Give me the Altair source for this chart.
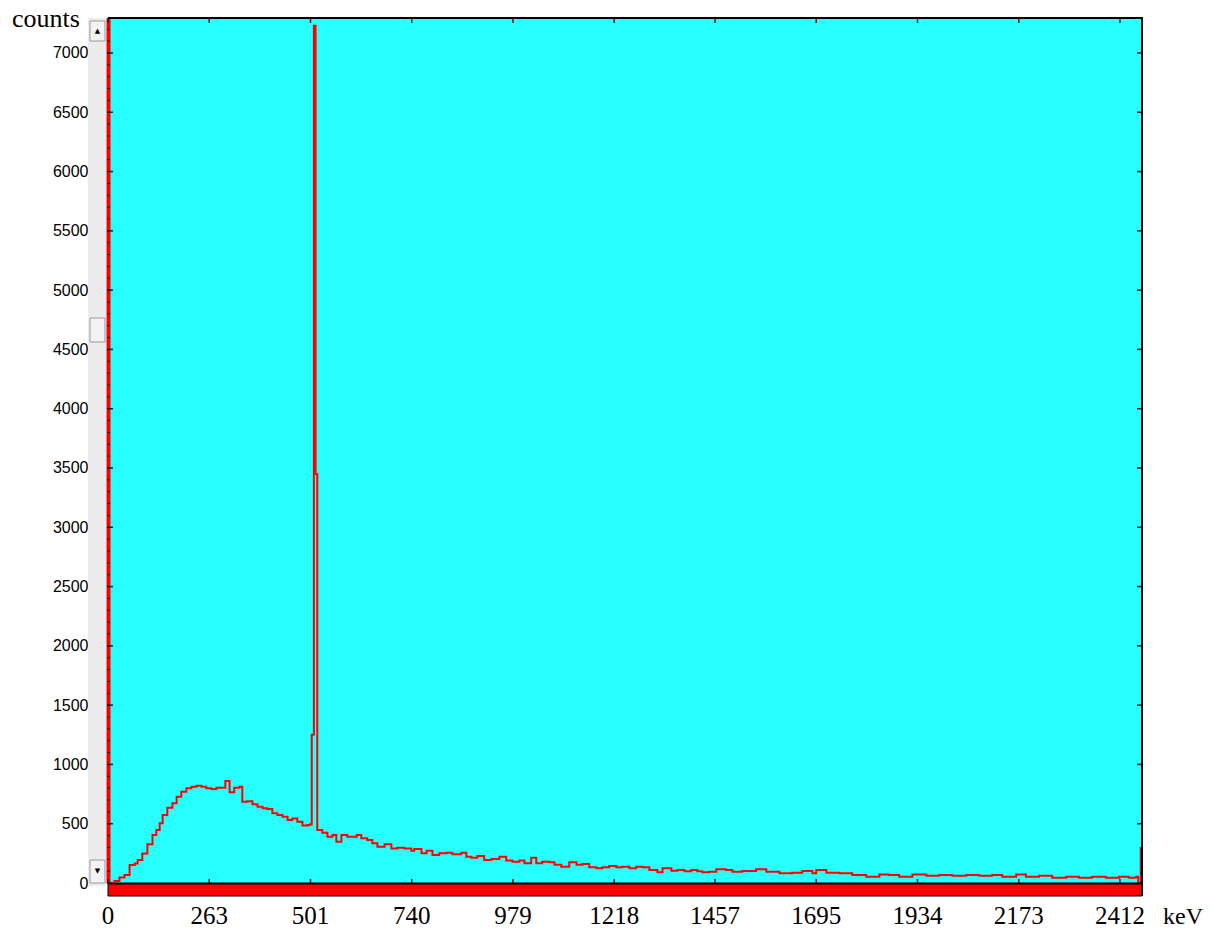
import altair as alt
import pandas as pd

# ---- data (keV, counts) ----
energy_kev = [25, 40, 52, 64, 76, 88, 95, 106, 118, 130, 139, 147, 154, 165, 177, 187,
              198, 210, 222, 234, 246, 257, 269, 281, 293, 302, 312, 323, 335, 342, 354,
              366, 378, 390, 401, 413, 425, 437, 449, 460, 472, 484, 496, 502, 506, 511,
              515, 519, 531, 543, 555, 564, 576, 590, 612, 623, 637, 649, 661, 678, 694,
              708, 725, 741, 748, 765, 777, 791, 807, 824, 838, 859, 871, 883, 897, 913,
              930, 949, 965, 980, 996, 1008, 1024, 1036, 1050, 1067, 1079, 1095, 1114,
              1131, 1145, 1161, 1178, 1192, 1208, 1225, 1239, 1256, 1272, 1287, 1303,
              1322, 1334, 1355, 1369, 1386, 1402, 1416, 1428, 1444, 1461, 1484, 1499,
              1522, 1555, 1579, 1610, 1640, 1664, 1688, 1697, 1721, 1752, 1782, 1815,
              1846, 1869, 1893, 1924, 1957, 1987, 2018, 2051, 2082, 2112, 2136, 2169,
              2192, 2223, 2254, 2287, 2317, 2348, 2381, 2412, 2435, 2452, 2457, 2463, 2466]
counts = [0, 16, 46, 67, 152, 165, 194, 249, 326, 404, 447, 503, 573, 635, 672, 728,
          770, 799, 812, 821, 812, 799, 793, 804, 804, 860, 765, 804, 812, 686, 689,
          664, 643, 630, 624, 588, 573, 559, 531, 545, 517, 484, 489, 495, 1250, 7230,
          3450, 447, 424, 390, 405, 348, 405, 390, 405, 377, 362, 335, 306, 326, 292,
          297, 292, 272, 286, 250, 272, 236, 250, 256, 243, 256, 222, 214, 228, 194,
          202, 222, 189, 180, 189, 166, 214, 166, 180, 175, 154, 137, 175,
          154, 160, 132, 124, 132, 143, 132, 137, 124, 137, 132, 110,
          90, 124, 104, 110, 99, 110, 99, 90, 95, 115, 110, 95,
          101, 115, 95, 82, 87, 101, 82, 110, 87, 82, 67, 53,
          72, 67, 53, 72, 62, 67, 62, 67, 62, 67, 53, 72,
          53, 62, 45, 53, 45, 53, 45, 53, 45, 53, 0, 295, 295]

x_tick_energy = [25, 264, 503, 742, 981, 1220, 1458, 1697, 1936, 2175, 2414]
x_tick_labels = ["0", "263", "501", "740", "979", "1218", "1457", "1695", "1934", "2173", "2412"]
y_tick_values = [0, 500, 1000, 1500, 2000, 2500, 3000, 3500, 4000, 4500, 5000, 5500, 6000, 6500, 7000]
y_minor_values = list(range(0, 7300, 100))

W, H = 1034, 865
X_MIN, X_MAX = 25, 2466
Y_MAX = 7295
CYAN = "#28FFFF"
RED = "#FF0000"
TICK = "#1a1a1a"

spec = pd.DataFrame({"energy": energy_kev, "counts": counts})
xt = pd.DataFrame({"energy": x_tick_energy, "label": x_tick_labels})
ymaj = pd.DataFrame({"counts": y_tick_values})
ymin = pd.DataFrame({"counts": y_minor_values})
one = pd.DataFrame({"k": [0]})

xs = alt.Scale(domain=[X_MIN, X_MAX], nice=False, zero=False)
ys = alt.Scale(domain=[0, Y_MAX], nice=False, zero=True)

xaxis = alt.Axis(title=None, labels=False, ticks=False, grid=False,
                 domainColor="black", domainWidth=2)
yaxis = alt.Axis(title=None, values=y_tick_values, grid=False, ticks=False, format="d",
                 domainColor=RED, domainWidth=4, labelFont="Liberation Sans",
                 labelFontSize=16, labelColor="black", labelPadding=20)

X = alt.X("energy:Q", scale=xs, axis=xaxis)
Y = alt.Y("counts:Q", scale=ys, axis=yaxis)

line = alt.Chart(spec).mark_line(
    interpolate="step-after", color=RED, strokeWidth=2, clip=True
).encode(x=X, y=Y)

# bottom red band under the x axis
band = alt.Chart(one).mark_rect(fill=RED, stroke="black", strokeWidth=1).encode(
    x=alt.value(0), x2=alt.value(W), y=alt.value(H + 1), y2=alt.value(H + 13))

# frame (top and right)
top_border = alt.Chart(one).mark_rule(color="black", strokeWidth=2).encode(
    x=alt.value(0), x2=alt.value(W + 1), y=alt.value(0))
right_border = alt.Chart(one).mark_rule(color="black", strokeWidth=2).encode(
    x=alt.value(W), y=alt.value(0), y2=alt.value(H + 13))

# inward ticks
bottom_ticks = alt.Chart(xt).mark_rule(color=TICK, strokeWidth=1.5).encode(
    x=X, y=alt.value(H - 4), y2=alt.value(H))
top_ticks = alt.Chart(xt).mark_rule(color=TICK, strokeWidth=1.5).encode(
    x=X, y=alt.value(0), y2=alt.value(5))
left_major = alt.Chart(ymaj).mark_rule(color=TICK, strokeWidth=1.5).encode(
    y=Y, x=alt.value(-1), x2=alt.value(5))
left_minor = alt.Chart(ymin).mark_rule(color=TICK, strokeWidth=1).encode(
    y=Y, x=alt.value(-1), x2=alt.value(2))
right_major = alt.Chart(ymaj).mark_rule(color=TICK, strokeWidth=1.5).encode(
    y=Y, x=alt.value(W - 5), x2=alt.value(W))

# x tick labels (serif)
x_labels = alt.Chart(xt).mark_text(
    font="Liberation Serif", fontSize=25, baseline="alphabetic", align="center", color="black"
).encode(x=X, y=alt.value(H + 41), text="label:N")

counts_title = alt.Chart(one).mark_text(
    font="Liberation Serif", fontSize=26, align="left", baseline="alphabetic", color="black"
).encode(x=alt.value(-96), y=alt.value(9), text=alt.value("counts"))
kev_title = alt.Chart(one).mark_text(
    font="Liberation Serif", fontSize=24, align="left", baseline="alphabetic", color="black"
).encode(x=alt.value(W + 21), y=alt.value(H + 41), text=alt.value("keV"))

# scrollbar decoration on the left
sb_bg = alt.Chart(one).mark_rect(fill="#ECECEC").encode(
    x=alt.value(-20), x2=alt.value(-2), y=alt.value(0), y2=alt.value(H + 3))
def button(y0, y1):
    return alt.Chart(one).mark_rect(fill="#F3F3F3", stroke="#9A9A9A", strokeWidth=1).encode(
        x=alt.value(-18), x2=alt.value(-3), y=alt.value(y0), y2=alt.value(y1))
up_btn = button(3, 23)
thumb = button(300, 324)
down_btn = button(842, 865)
up_arrow = alt.Chart(one).mark_text(font="DejaVu Sans", fontSize=7, color="black",
                                    baseline="middle", align="center").encode(
    x=alt.value(-10.5), y=alt.value(13), text=alt.value("▲"))
down_arrow = alt.Chart(one).mark_text(font="DejaVu Sans", fontSize=7, color="black",
                                      baseline="middle", align="center").encode(
    x=alt.value(-10.5), y=alt.value(853), text=alt.value("▼"))

chart = alt.layer(
    sb_bg, up_btn, thumb, down_btn, up_arrow, down_arrow,
    line, band, top_border, right_border,
    bottom_ticks, top_ticks, left_major, left_minor, right_major,
    x_labels, counts_title, kev_title,
).properties(
    width=W, height=H,
    padding={"left": 100, "top": 10, "right": 62, "bottom": 52},
    autosize=alt.AutoSizeParams(type="none"),
    background="white",
).configure_view(
    fill=CYAN, strokeOpacity=0
)

chart.save("out.html", embed_options={"renderer": "svg", "actions": False})
